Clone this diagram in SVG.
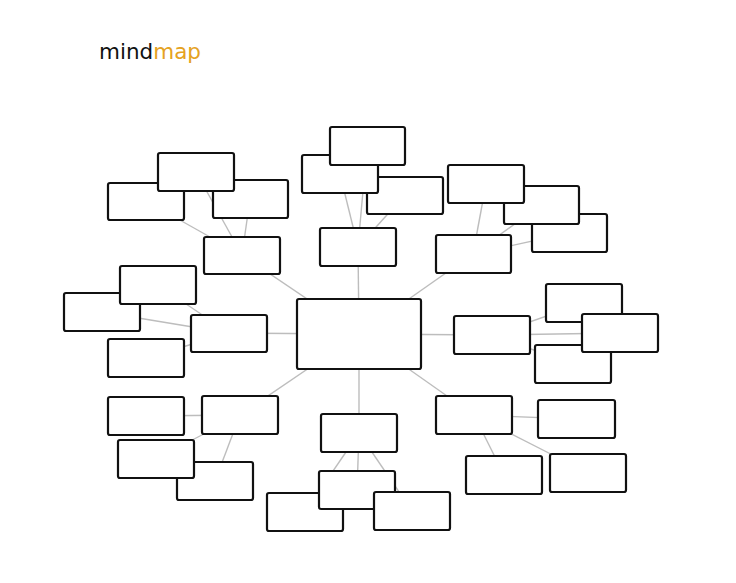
<svg xmlns="http://www.w3.org/2000/svg" width="736" height="583" viewBox="0 0 736 583">
<style>
.n{fill:#fff;stroke:#111;stroke-width:2.2}
.c line{stroke:#bdbdbd;stroke-width:1.4}
.t{font-family:"DejaVu Sans",Verdana,sans-serif;font-size:21.5px}
</style>
<rect width="736" height="583" fill="#fff"/>
<text class="t" x="99" y="58.5" fill="#111">mind<tspan fill="#e5a222">map</tspan></text>
<g id="connectors" class="c">
<line x1="359" y1="334" x2="242" y2="255"/>
<line x1="359" y1="334" x2="358" y2="247"/>
<line x1="359" y1="334" x2="473" y2="254"/>
<line x1="359" y1="334" x2="229" y2="333"/>
<line x1="359" y1="334" x2="492" y2="335"/>
<line x1="359" y1="334" x2="240" y2="415"/>
<line x1="359" y1="334" x2="359" y2="433"/>
<line x1="359" y1="334" x2="474" y2="415"/>
<line x1="146" y1="201" x2="242" y2="255"/>
<line x1="196" y1="172" x2="242" y2="255"/>
<line x1="250" y1="199" x2="242" y2="255"/>
<line x1="367" y1="146" x2="358" y2="247"/>
<line x1="340" y1="174" x2="358" y2="247"/>
<line x1="405" y1="195" x2="358" y2="247"/>
<line x1="486" y1="184" x2="473" y2="254"/>
<line x1="541" y1="205" x2="473" y2="254"/>
<line x1="569" y1="233" x2="473" y2="254"/>
<line x1="158" y1="285" x2="229" y2="333"/>
<line x1="102" y1="312" x2="229" y2="333"/>
<line x1="146" y1="358" x2="229" y2="333"/>
<line x1="584" y1="303" x2="492" y2="335"/>
<line x1="620" y1="333" x2="492" y2="335"/>
<line x1="573" y1="364" x2="492" y2="335"/>
<line x1="146" y1="416" x2="240" y2="415"/>
<line x1="156" y1="459" x2="240" y2="415"/>
<line x1="215" y1="481" x2="240" y2="415"/>
<line x1="305" y1="512" x2="359" y2="433"/>
<line x1="357" y1="490" x2="359" y2="433"/>
<line x1="412" y1="511" x2="359" y2="433"/>
<line x1="576" y1="419" x2="474" y2="415"/>
<line x1="504" y1="475" x2="474" y2="415"/>
<line x1="588" y1="473" x2="474" y2="415"/>
</g>
<g id="n-ul-left"><rect class="n" x="108" y="183" width="76" height="37" rx="2"/></g>
<g id="n-ul-right"><rect class="n" x="213" y="180" width="75" height="38" rx="2"/></g>
<g id="n-ul-top"><rect class="n" x="158" y="153" width="76" height="38" rx="2"/></g>
<g id="n-ul"><rect class="n" x="204" y="237" width="76" height="37" rx="2"/></g>
<g id="n-t-right"><rect class="n" x="367" y="177" width="76" height="37" rx="2"/></g>
<g id="n-t-left"><rect class="n" x="302" y="155" width="76" height="38" rx="2"/></g>
<g id="n-t-top"><rect class="n" x="330" y="127" width="75" height="38" rx="2"/></g>
<g id="n-t"><rect class="n" x="320" y="228" width="76" height="38" rx="2"/></g>
<g id="n-ur-3"><rect class="n" x="532" y="214" width="75" height="38" rx="2"/></g>
<g id="n-ur-2"><rect class="n" x="504" y="186" width="75" height="38" rx="2"/></g>
<g id="n-ur-1"><rect class="n" x="448" y="165" width="76" height="38" rx="2"/></g>
<g id="n-ur"><rect class="n" x="436" y="235" width="75" height="38" rx="2"/></g>
<g id="n-l-left"><rect class="n" x="64" y="293" width="76" height="38" rx="2"/></g>
<g id="n-l-top"><rect class="n" x="120" y="266" width="76" height="38" rx="2"/></g>
<g id="n-l-bottom"><rect class="n" x="108" y="339" width="76" height="38" rx="2"/></g>
<g id="n-l"><rect class="n" x="191" y="315" width="76" height="37" rx="2"/></g>
<g id="n-r-top"><rect class="n" x="546" y="284" width="76" height="38" rx="2"/></g>
<g id="n-r-bottom"><rect class="n" x="535" y="345" width="76" height="38" rx="2"/></g>
<g id="n-r-right"><rect class="n" x="582" y="314" width="76" height="38" rx="2"/></g>
<g id="n-r"><rect class="n" x="454" y="316" width="76" height="38" rx="2"/></g>
<g id="n-ll-4"><rect class="n" x="177" y="462" width="76" height="38" rx="2"/></g>
<g id="n-ll-3"><rect class="n" x="118" y="440" width="76" height="38" rx="2"/></g>
<g id="n-ll-1"><rect class="n" x="108" y="397" width="76" height="38" rx="2"/></g>
<g id="n-ll"><rect class="n" x="202" y="396" width="76" height="38" rx="2"/></g>
<g id="n-b-left"><rect class="n" x="267" y="493" width="76" height="38" rx="2"/></g>
<g id="n-b-mid"><rect class="n" x="319" y="471" width="76" height="38" rx="2"/></g>
<g id="n-b-right"><rect class="n" x="374" y="492" width="76" height="38" rx="2"/></g>
<g id="n-b"><rect class="n" x="321" y="414" width="76" height="38" rx="2"/></g>
<g id="n-lr"><rect class="n" x="436" y="396" width="76" height="38" rx="2"/></g>
<g id="n-lr-1"><rect class="n" x="538" y="400" width="77" height="38" rx="2"/></g>
<g id="n-lr-2"><rect class="n" x="466" y="456" width="76" height="38" rx="2"/></g>
<g id="n-lr-3"><rect class="n" x="550" y="454" width="76" height="38" rx="2"/></g>
<g id="n-center"><rect class="n" x="297" y="299" width="124" height="70" rx="2"/></g>
</svg>
